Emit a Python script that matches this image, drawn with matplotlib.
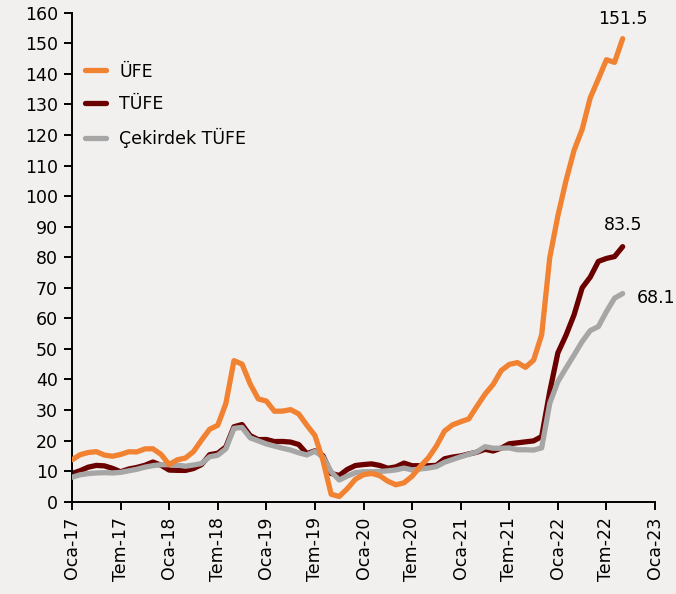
import numpy as np
import matplotlib
matplotlib.use("Agg")
import matplotlib.pyplot as plt

# monthly annual % change, Jan 2017 - Sep 2022
ufe = [13.69, 15.36, 16.09, 16.37, 15.26, 14.87, 15.45, 16.34, 16.28, 17.28, 17.30, 15.47,
       12.14, 13.71, 14.28, 16.37, 20.16, 23.71, 25.00, 32.13, 46.15, 45.01, 38.54, 33.64,
       32.93, 29.59, 29.64, 30.12, 28.71, 25.04, 21.66, 13.45, 2.45, 1.70, 4.26, 7.36,
       8.84, 9.26, 8.50, 6.71, 5.53, 6.17, 8.33, 11.53, 14.33, 18.20, 23.11, 25.15,
       26.16, 27.09, 31.20, 35.17, 38.33, 42.89, 44.92, 45.52, 43.96, 46.31, 54.62, 79.89,
       93.53, 105.01, 114.97, 121.82, 132.16, 138.31, 144.61, 143.75, 151.50]
tufe = [9.22, 10.13, 11.29, 11.87, 11.72, 10.90, 9.79, 10.68, 11.20, 11.90, 12.98, 11.92,
        10.35, 10.26, 10.23, 10.85, 12.15, 15.39, 15.85, 17.90, 24.52, 25.24, 21.62, 20.30,
        20.35, 19.67, 19.71, 19.50, 18.71, 15.72, 16.65, 15.01, 9.26, 8.55, 10.56, 11.84,
        12.15, 12.37, 11.86, 10.94, 11.39, 12.62, 11.76, 11.77, 11.75, 11.89, 14.03, 14.60,
        14.97, 15.61, 16.19, 17.14, 16.59, 17.53, 18.95, 19.25, 19.58, 19.89, 21.31, 36.08,
        48.69, 54.44, 61.14, 69.97, 73.50, 78.62, 79.60, 80.21, 83.45]
cekirdek = [8.0, 8.8, 9.2, 9.4, 9.5, 9.4, 9.6, 10.1, 10.6, 11.3, 11.8, 12.1,
            12.1, 12.0, 11.6, 12.0, 12.5, 14.7, 15.2, 17.3, 24.0, 24.3, 20.9, 19.9,
            18.9, 18.2, 17.5, 16.9, 16.0, 15.3, 16.5, 14.6, 9.8, 7.1, 8.4, 9.5,
            9.8, 9.8, 9.9, 10.1, 10.4, 11.0, 10.4, 10.7, 11.0, 11.5, 12.9, 13.8,
            14.7, 15.5, 16.3, 18.0, 17.5, 17.5, 17.6, 17.0, 17.0, 16.9, 17.6, 32.2,
            39.3, 43.7, 48.0, 52.4, 56.0, 57.3, 62.2, 66.6, 68.1]
tick_labels = ["Oca-17", "Tem-17", "Oca-18", "Tem-18", "Oca-19", "Tem-19", "Oca-20",
               "Tem-20", "Oca-21", "Tem-21", "Oca-22", "Tem-22", "Oca-23"]

bg = "#f2f0ee"
c_ufe = "#f08232"
c_tufe = "#6b0000"
c_core = "#a6a6a6"

plt.rcParams['font.family'] = ['DejaVu Sans']

fig = plt.figure(figsize=(6.76, 5.94), dpi=100, facecolor=bg)
ax = fig.add_axes([0.1065, 0.1554, 0.8625, 0.8232])
ax.set_facecolor(bg)

x = np.arange(len(ufe))
lw = 3.8
ax.plot(x, tufe, color=c_tufe, lw=lw, label="TÜFE", zorder=2, solid_capstyle='round')
ax.plot(x, cekirdek, color=c_core, lw=lw, label="Çekirdek TÜFE", zorder=3, solid_capstyle='round')
ax.plot(x, ufe, color=c_ufe, lw=lw, label="ÜFE", zorder=4, solid_capstyle='round')

ax.set_xlim(0, 72)
ax.set_ylim(0, 160)
ax.set_yticks(np.arange(0, 161, 10))
ax.set_xticks(np.arange(0, 73, 6))
ax.set_xticklabels(tick_labels, rotation=90)
ax.tick_params(axis='both', labelsize=12.5, width=1.4, length=6, color='black')
ax.tick_params(axis='x', pad=5)
ax.tick_params(axis='y', pad=4)
for s in ['top', 'right']:
    ax.spines[s].set_visible(False)
for s in ['left', 'bottom']:
    ax.spines[s].set_linewidth(1.4)

# value labels at the last point
last = len(ufe) - 1
ax.annotate(f"{ufe[-1]:.1f}", (last, ufe[-1]), xytext=(0, 8), textcoords='offset points',
            ha='center', va='bottom', fontsize=12.5, annotation_clip=False)
ax.annotate(f"{tufe[-1]:.1f}", (last, tufe[-1]), xytext=(0, 9), textcoords='offset points',
            ha='center', va='bottom', fontsize=12.5, annotation_clip=False)
ax.annotate(f"{cekirdek[-1]:.1f}", (last, cekirdek[-1]), xytext=(10, -3), textcoords='offset points',
            ha='left', va='center', fontsize=12.5, annotation_clip=False)

handles, labels = ax.get_legend_handles_labels()
order = [2, 0, 1]
leg = ax.legend([handles[i] for i in order], [labels[i] for i in order],
                loc='upper left', bbox_to_anchor=(-0.005, 0.93), frameon=False,
                fontsize=12.5, handlelength=1.25, handletextpad=0.75, labelspacing=0.85)

fig.savefig("out.png", dpi=100, facecolor=bg)
